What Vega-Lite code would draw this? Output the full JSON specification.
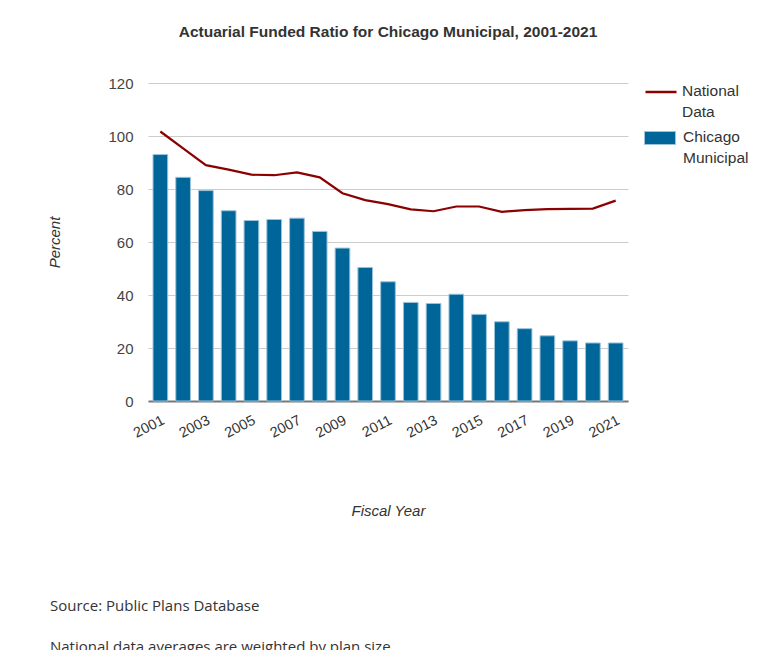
{
  "$schema": "https://vega.github.io/schema/vega-lite/v6.json",
  "padding": {"left": 47, "top": 24, "right": 5, "bottom": 0},
  "background": "white",
  "config": {"font": "Liberation Sans", "view": {"stroke": null}},
  "title": {
    "text": "Source: Public Plans Database",
    "subtitle": "National data averages are weighted by plan size.",
    "orient": "bottom", "anchor": "start", "frame": "bounds", "dx": 2,
    "font": "Open Sans", "fontSize": 15, "fontWeight": "normal", "color": "#333333",
    "subtitleFont": "Open Sans", "subtitleFontSize": 15, "subtitleColor": "#333333",
    "subtitlePadding": 26, "offset": 80
  },
  "vconcat": [
    {
      "width": 480,
      "height": 318,
      "title": {
        "text": "Actuarial Funded Ratio for Chicago Municipal, 2001-2021",
        "fontSize": 15.5, "fontWeight": "bold", "color": "#333333",
        "offset": 36, "anchor": "middle", "frame": "group"
      },
      "data": {
        "values": [
          {"year": 2001, "chicago": 93.0, "national": 101.7},
          {"year": 2002, "chicago": 84.4, "national": 95.3},
          {"year": 2003, "chicago": 79.4, "national": 89.0},
          {"year": 2004, "chicago": 71.8, "national": 87.3},
          {"year": 2005, "chicago": 68.1, "national": 85.4},
          {"year": 2006, "chicago": 68.5, "national": 85.2},
          {"year": 2007, "chicago": 69.0, "national": 86.3},
          {"year": 2008, "chicago": 64.0, "national": 84.4},
          {"year": 2009, "chicago": 57.7, "national": 78.4},
          {"year": 2010, "chicago": 50.4, "national": 75.8},
          {"year": 2011, "chicago": 45.0, "national": 74.3},
          {"year": 2012, "chicago": 37.2, "national": 72.3},
          {"year": 2013, "chicago": 36.8, "national": 71.6},
          {"year": 2014, "chicago": 40.3, "national": 73.4},
          {"year": 2015, "chicago": 32.7, "national": 73.4},
          {"year": 2016, "chicago": 29.9, "national": 71.4},
          {"year": 2017, "chicago": 27.3, "national": 72.0},
          {"year": 2018, "chicago": 24.6, "national": 72.4},
          {"year": 2019, "chicago": 22.7, "national": 72.5},
          {"year": 2020, "chicago": 21.9, "national": 72.6},
          {"year": 2021, "chicago": 21.9, "national": 75.6}
        ]
      },
      "encoding": {
        "x": {
          "field": "year", "type": "ordinal",
          "scale": {"paddingInner": 0.355, "paddingOuter": 0.22},
          "axis": {
            "title": "Fiscal Year", "titleFontStyle": "italic", "titleFontWeight": "normal",
            "titleFontSize": 15, "titleColor": "#333333", "titlePadding": 64,
            "values": [2001, 2003, 2005, 2007, 2009, 2011, 2013, 2015, 2017, 2019, 2021],
            "labelAngle": -27, "labelAlign": "right", "labelBaseline": "top",
            "labelFontSize": 14.5, "labelColor": "#333333", "labelPadding": 12,
            "ticks": false, "domainColor": "#777777", "domainWidth": 2, "grid": false
          }
        }
      },
      "layer": [
        {
          "mark": {"type": "line", "strokeWidth": 2.2},
          "encoding": {
            "y": {
              "field": "national", "type": "quantitative",
              "scale": {"domain": [0, 120], "nice": false},
              "axis": {
                "title": "Percent", "titleFontStyle": "italic", "titleFontWeight": "normal",
                "titleFontSize": 15, "titleColor": "#333333", "titlePadding": 45,
                "values": [0, 10, 20, 30, 40, 50, 60, 70, 80, 90, 100, 110, 120],
                "labelExpr": "datum.value % 20 === 0 ? datum.label : ''",
                "labelFontSize": 15, "labelColor": "#444444", "labelPadding": 15,
                "ticks": false, "domain": false,
                "gridColor": {"condition": {"test": "datum.value % 20 === 0", "value": "#cccccc"}, "value": "#ebebeb"},
                "gridWidth": 1
              }
            },
            "color": {
              "datum": "National Data", "type": "nominal",
              "scale": {"range": ["#8b0000"]},
              "legend": {
                "title": null, "orient": "none", "legendX": 496, "legendY": -8, "padding": 0,
                "symbolType": "stroke", "symbolSize": 961, "symbolStrokeWidth": 2.5,
                "labelExpr": "split(datum.label, ' ')", "labelLimit": 200,
                "labelFontSize": 15.5, "labelColor": "#333333", "labelOffset": 4,
                "labelBaseline": "top",
                "encode": {"labels": {"update": {"dy": {"value": -8}, "lineHeight": {"value": 21}}}}
              }
            }
          }
        },
        {
          "mark": {"type": "bar", "stroke": "#9cc3da", "strokeWidth": 1},
          "encoding": {
            "y": {"field": "chicago", "type": "quantitative"},
            "fill": {
              "datum": "Chicago Municipal", "type": "nominal",
              "scale": {"range": ["#006699"]},
              "legend": {
                "title": null, "orient": "none", "legendX": 496, "legendY": 39, "padding": 0,
                "symbolType": "M-1,-0.42H1V0.42H-1Z", "symbolSize": 961,
                "symbolStrokeColor": "#9cc3da", "symbolStrokeWidth": 1,
                "labelExpr": "split(datum.label, ' ')", "labelLimit": 200,
                "labelFontSize": 15.5, "labelColor": "#333333", "labelOffset": 7,
                "labelBaseline": "top",
                "encode": {"labels": {"update": {"dy": {"value": -8}, "lineHeight": {"value": 21}}}}
              }
            }
          }
        }
      ]
    }
  ]
}
